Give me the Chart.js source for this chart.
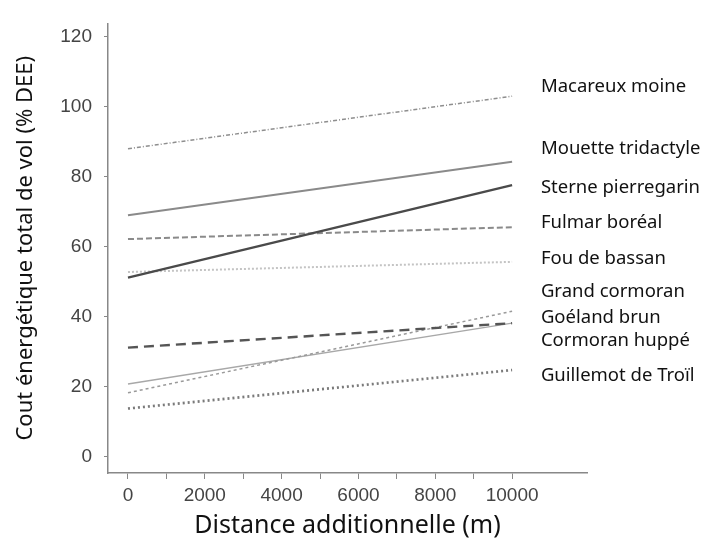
<!DOCTYPE html>
<html lang="fr">
<head>
<meta charset="utf-8">
<script src="https://cdn.jsdelivr.net/npm/chart.js@4.4.1/dist/chart.umd.min.js"></script>
<style>
  html, body { margin: 0; padding: 0; background: #fff; }
  #wrap { width: 725px; height: 545px; position: relative; }
</style>
</head>
<body>
<div id="wrap"><canvas id="chart"></canvas></div>
<script>
// --- DONNÉES ---
const distances = [0, 10000];
const especes = [
  "Macareux moine", "Mouette tridactyle", "Sterne pierregarin", "Fulmar boréal",
  "Fou de bassan", "Grand cormoran", "Goéland brun", "Cormoran huppé", "Guillemot de Troïl"
];
const macareux = [88, 103];
const mouette = [69, 84.3];
const sterne = [51.2, 77.6];
const fulmar = [62.2, 65.6];
const fou = [52.8, 55.7];
const grandCormoran = [31.2, 38.2];
const goeland = [18.3, 41.6];
const cormoranHuppe = [20.8, 38.2];
const guillemot = [13.8, 24.8];
const yTicks = [0, 20, 40, 60, 80, 100, 120];
const xTicks = [0, 1000, 2000, 3000, 4000, 5000, 6000, 7000, 8000, 9000, 10000];
const xLabels = ["0", "", "2000", "", "4000", "", "6000", "", "8000", "", "10000"];
// valeurs (axe y) où sont posées les étiquettes des espèces
const labelAnchors = [105.6, 87.9, 76.8, 66.8, 56.5, 47.3, 39.8, 33.3, 23.3];
const labelX = 10750;

const series = [macareux, mouette, sterne, fulmar, fou, grandCormoran, goeland, cormoranHuppe, guillemot];
const styles = [
  { color: "#8e8e8e", width: 1.5, dash: [4, 2, 1, 2] },
  { color: "#8a8a8a", width: 2, dash: [] },
  { color: "#4a4a4a", width: 2.4, dash: [] },
  { color: "#8a8a8a", width: 2, dash: [6, 3] },
  { color: "#c4c4c4", width: 2, dash: [2, 2] },
  { color: "#555555", width: 2.4, dash: [10, 6] },
  { color: "#9a9a9a", width: 1.5, dash: [3, 3] },
  { color: "#a8a8a8", width: 1.5, dash: [] },
  { color: "#7a7a7a", width: 2.6, dash: [2, 3] }
];

const datasets = series.map((vals, i) => ({
  label: especes[i],
  data: vals.map((v, j) => ({ x: distances[j], y: v })),
  borderColor: styles[i].color,
  borderWidth: styles[i].width,
  borderDash: styles[i].dash,
  pointRadius: 0,
  fill: false
}));

// --- ÉTIQUETTES À DROITE ---
const speciesLabels = {
  id: "speciesLabels",
  afterDraw(chart) {
    const ctx = chart.ctx;
    const x = chart.scales.x.getPixelForValue(labelX);
    ctx.save();
    ctx.font = "18.5px 'Noto Sans'";
    ctx.fillStyle = "#111";
    ctx.textBaseline = "middle";
    ctx.textAlign = "left";
    especes.forEach((name, i) => {
      ctx.fillText(name, x, chart.scales.y.getPixelForValue(labelAnchors[i]));
    });
    ctx.restore();
  }
};

new Chart(document.getElementById("chart"), {
  type: "line",
  data: { datasets },
  plugins: [speciesLabels],
  options: {
    responsive: true,
    maintainAspectRatio: false,
    animation: false,
    layout: { padding: { top: 23, right: 138, left: 0, bottom: 0 } },
    plugins: { legend: { display: false }, tooltip: { enabled: false } },
    scales: {
      x: {
        type: "linear",
        min: -520,
        max: 11950,
        afterBuildTicks: (axis) => { axis.ticks = xTicks.map(v => ({ value: v })); },
        afterFit: (axis) => { axis.height = 72; },
        ticks: {
          autoSkip: false,
          maxRotation: 0,
          padding: 5,
          color: "#444",
          font: { family: "'Liberation Sans', Arial", size: 19 },
          callback: (v, i) => xLabels[i]
        },
        grid: { drawOnChartArea: false, drawTicks: true, tickLength: 6, color: "#888" },
        border: { display: true, color: "#888", width: 1.5 },
        title: {
          display: true,
          text: "Distance additionnelle (m)",
          color: "#111",
          font: { family: "'Noto Sans'", size: 25 },
          padding: { top: 0, bottom: 4 }
        }
      },
      y: {
        min: -4.6,
        max: 123.8,
        afterBuildTicks: (axis) => { axis.ticks = yTicks.map(v => ({ value: v })); },
        afterFit: (axis) => { axis.width = 108; },
        ticks: {
          padding: 12,
          color: "#444",
          font: { family: "'Liberation Sans', Arial", size: 19 }
        },
        grid: { drawOnChartArea: false, drawTicks: true, tickLength: 4, color: "#888" },
        border: { display: true, color: "#888", width: 1.5 },
        title: {
          display: true,
          text: "Cout énergétique total de vol (% DEE)",
          color: "#111",
          font: { family: "'Noto Sans'", size: 22 },
          padding: { top: 13, bottom: 0 }
        }
      }
    }
  }
});
</script>
</body>
</html>
